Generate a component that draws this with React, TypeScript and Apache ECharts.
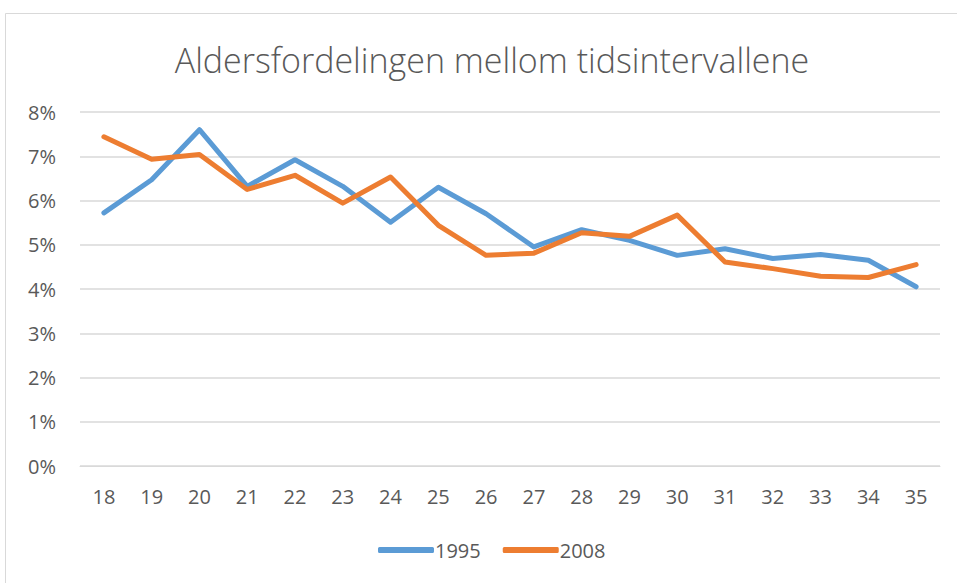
import React, { useEffect, useRef } from "react";
import * as echarts from "echarts";

const categories = ["18","19","20","21","22","23","24","25","26","27","28","29","30","31","32","33","34","35"];
const series1995 = [5.72,6.47,7.60,6.32,6.92,6.32,5.51,6.30,5.70,4.95,5.34,5.10,4.76,4.91,4.69,4.78,4.65,4.05];
const series2008 = [7.44,6.93,7.04,6.25,6.57,5.94,6.53,5.44,4.76,4.81,5.27,5.19,5.67,4.61,4.46,4.29,4.26,4.55];
const yTicks = [0,1,2,3,4,5,6,7,8];

export default function App() {
  const ref = useRef<HTMLDivElement>(null);
  useEffect(() => {
    if (!ref.current) return;
    const chart = echarts.init(ref.current, null, { renderer: "svg" });
    const font = "'Open Sans', 'Liberation Sans', sans-serif";
    chart.setOption({
      animation: false,
      backgroundColor: "#ffffff",
      title: {
        text: "Aldersfordelingen mellom tidsintervallene",
        left: 487,
        textAlign: "center",
        top: 38,
        textStyle: { fontFamily: font, fontSize: 34, fontWeight: 300, color: "#595959" },
      },
      graphic: [
        {
          type: "rect",
          shape: { x: 5.5, y: 13.5, width: 1000, height: 700 },
          style: { fill: "none", stroke: "#d9d9d9", lineWidth: 1 },
          silent: true,
        },
      ],
      legend: {
        bottom: 18,
        left: 373,
        itemWidth: 56,
        itemHeight: 6,
        itemGap: 22,
        textStyle: { fontFamily: font, fontSize: 20, color: "#595959", padding: [0, 0, 0, -4] },
        data: [
          { name: "1995", icon: "roundRect" },
          { name: "2008", icon: "roundRect" },
        ],
      },
      grid: { left: 80, right: 17, top: 112, bottom: 117, containLabel: false },
      xAxis: {
        type: "category",
        data: categories,
        boundaryGap: true,
        axisLine: { show: true, lineStyle: { color: "#d9d9d9", width: 1 } },
        axisTick: { show: false },
        axisLabel: { fontFamily: font, fontSize: 20, color: "#595959", margin: 20 },
      },
      yAxis: {
        type: "value",
        min: 0,
        max: 8,
        interval: 1,
        axisLine: { show: false },
        axisTick: { show: false },
        splitLine: { lineStyle: { color: "#d9d9d9", width: 1.5 } },
        axisLabel: {
          fontFamily: font,
          fontSize: 20,
          color: "#595959",
          margin: 24,
          formatter: (v: number) => (yTicks.includes(v) ? v + "%" : ""),
        },
      },
      series: [
        {
          name: "1995",
          type: "line",
          data: series1995,
          symbol: "none",
          lineStyle: { color: "#5B9BD5", width: 5, cap: "round", join: "round" },
          itemStyle: { color: "#5B9BD5" },
        },
        {
          name: "2008",
          type: "line",
          data: series2008,
          symbol: "none",
          lineStyle: { color: "#ED7D31", width: 5, cap: "round", join: "round" },
          itemStyle: { color: "#ED7D31" },
        },
      ],
    });
    return () => chart.dispose();
  }, []);
  return (
    <div
      ref={ref}
      style={{ position: "absolute", left: 0, top: 0, width: 957, height: 583 }}
    />
  );
}
